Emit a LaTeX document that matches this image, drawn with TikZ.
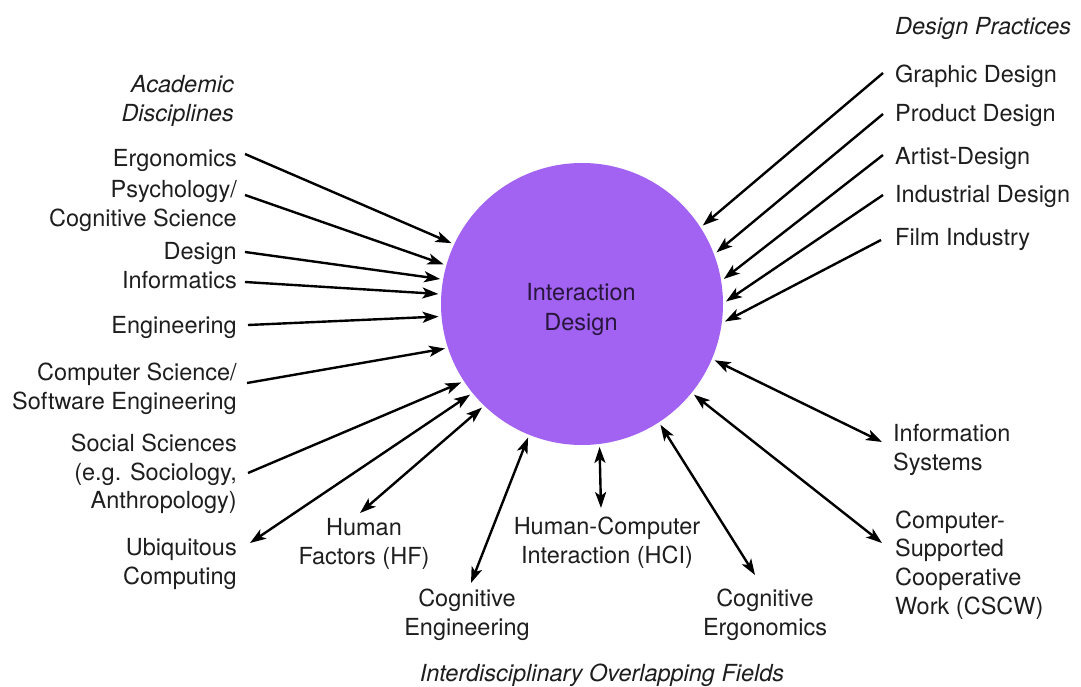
\documentclass[tikz,border=0pt]{standalone}
\usepackage{fontspec}
\setmainfont{TeX Gyre Heros}
\usetikzlibrary{arrows.meta}
\definecolor{idpurple}{RGB}{162,98,242}
\definecolor{labelgray}{RGB}{30,30,30}
\definecolor{idtextcol}{RGB}{40,22,60}
\begin{document}
\begin{tikzpicture}[x=1pt,y=-1pt,
  lbl/.style={font=\fontsize{23.5}{28.7}\selectfont, text=labelgray, inner sep=0pt},
  lblr/.style={lbl, anchor=east, align=right},
  lbll/.style={lbl, anchor=west, align=left},
  lblc/.style={lbl, anchor=center, align=center},
  hdr/.style={font=\fontsize{23.5}{28.7}\selectfont\itshape},
  idcircle/.style={circle, fill=idpurple, minimum size=282pt, inner sep=0pt, outer sep=3pt},
  idtext/.style={font=\fontsize{23.5}{30}\selectfont, text=idtextcol, align=center, inner sep=0pt},
  conn/.style={line width=2.4pt, -{Stealth[length=16pt,width=11pt,inset=4pt]}},
  biconn/.style={line width=2.4pt, {Stealth[length=16pt,width=11pt,inset=4pt]}-{Stealth[length=16pt,width=11pt,inset=4pt]}}
]
\useasboundingbox (0,0) rectangle (1081,687);
\fill[white] (0,0) rectangle (1081,687);

% central circle
\node[idcircle] (c) at (582,304) {};
\node[idtext] (idl) at (581,309) {Interaction\\Design};

% left column
\node[lblr, hdr] (acad) at (234,101) {Academic\\Disciplines};
\node[lblr] (ergo) at (237,160) {Ergonomics};
\node[lblr] (psych) at (237,206) {Psychology/\\Cognitive Science};
\node[lblr] (design) at (237,253) {Design};
\node[lblr] (inform) at (237,280) {Informatics};
\node[lblr] (engin) at (237,327) {Engineering};
\node[lblr] (comp) at (237,389) {Computer Science/\\Software Engineering};
\node[lblr] (social) at (237,474) {Social Sciences\\(e.g. Sociology,\\Anthropology)};
\node[lblr] (ubi) at (237,564) {Ubiquitous\\Computing};

% bottom
\node[lblc] (hf) at (364,544) {Human\\Factors (HF)};
\node[lblc] (cogeng) at (467,615) {Cognitive\\Engineering};
\node[lblc] (hci) at (607,543) {Human-Computer\\Interaction (HCI)};
\node[lblc] (cogergo) at (765,615) {Cognitive\\Ergonomics};
\node[lblc, hdr] (inter) at (602,675) {Interdisciplinary Overlapping Fields};

% right column
\node[lbll, hdr] (dp) at (895,28) {Design Practices};
\node[lbll] (graphic) at (895,76) {Graphic Design};
\node[lbll] (product) at (895,115) {Product Design};
\node[lbll] (artist) at (895,158) {Artist-Design};
\node[lbll] (indust) at (895,196) {Industrial Design};
\node[lbll] (film) at (895,239) {Film Industry};
\node[lbll] (info) at (893,450) {Information\\Systems};
\node[lbll] (cscw) at (895,565) {Computer-\\Supported\\Cooperative\\Work (CSCW)};

% free ends of connectors
\coordinate (ergoS) at (245,154);
\coordinate (psychS) at (245,195);
\coordinate (designS) at (245,252);
\coordinate (informS) at (245,282);
\coordinate (enginS) at (248,325);
\coordinate (compS) at (247,383);
\coordinate (socialS) at (248,473);
\coordinate (ubiE) at (250,543);
\coordinate (hfE) at (360,513);
\coordinate (cogengE) at (471,583);
\coordinate (hciE) at (601,508);
\coordinate (cogergoE) at (755,575);
\coordinate (cscwE) at (882,543);
\coordinate (infoE) at (882,442);
\coordinate (filmS) at (881,240);
\coordinate (industS) at (883,195);
\coordinate (artistS) at (883,155);
\coordinate (productS) at (883,114);
\coordinate (graphicS) at (883,73);

% left arrows into circle
\draw[conn] (ergoS) -- (c.155);
\draw[conn] (psychS) -- (c.164);
\draw[conn] (designS) -- (c.170);
\draw[conn] (informS) -- (c.176.5);
\draw[conn] (enginS) -- (c.185);
\draw[conn] (compS) -- (c.198);
\draw[conn] (socialS) -- (c.213);

% double-headed
\draw[biconn] (c.219) -- (ubiE);
\draw[biconn] (c.226.5) -- (hfE);
\draw[biconn] (c.248) -- (cogengE);
\draw[biconn] (c.277.5) -- (hciE);
\draw[biconn] (c.303) -- (cogergoE);
\draw[biconn] (c.321) -- (cscwE);
\draw[biconn] (c.337) -- (infoE);

% right arrows into circle
\draw[conn] (filmS) -- (c.353.5);
\draw[conn] (industS) -- (c.1.5);
\draw[conn] (artistS) -- (c.10.5);
\draw[conn] (productS) -- (c.21.5);
\draw[conn] (graphicS) -- (c.33.5);
\end{tikzpicture}
\end{document}
